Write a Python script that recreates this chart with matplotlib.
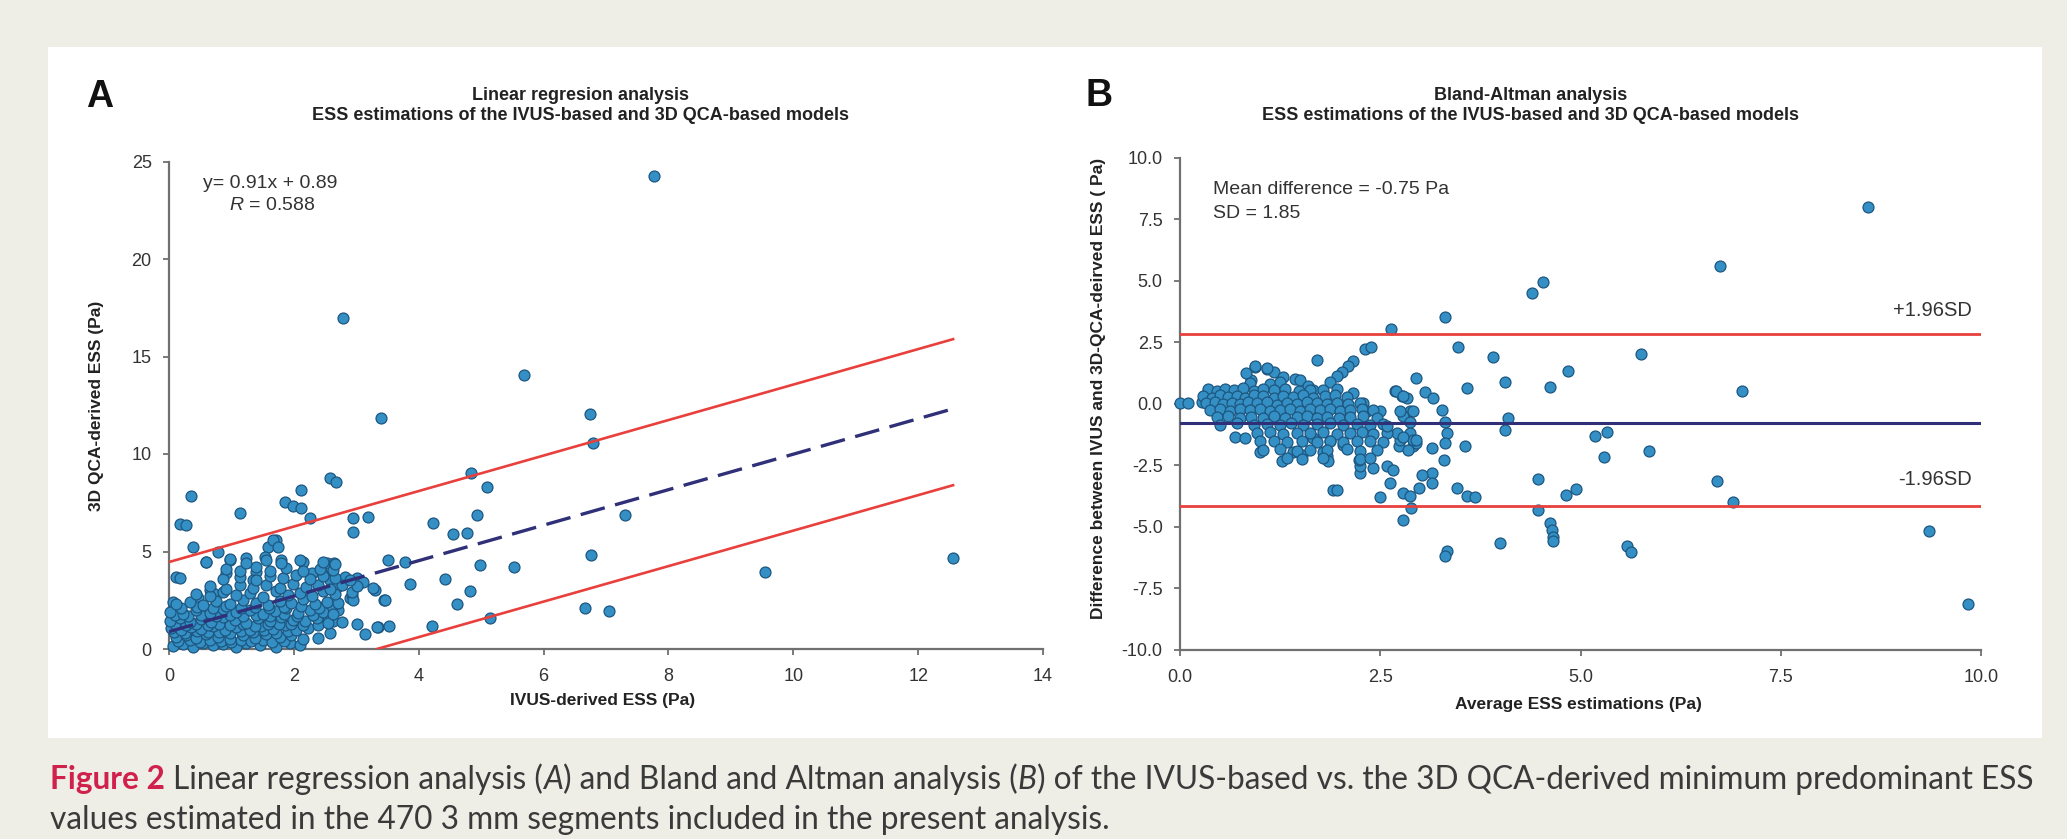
import matplotlib
matplotlib.use("Agg")
import matplotlib.pyplot as plt
from matplotlib.patches import Rectangle
from matplotlib import font_manager as fm

# ---------------- data ----------------
# Panel A: IVUS-derived ESS (x) vs 3D QCA-derived ESS (y)
a_ivus = [3.40, 6.75, 6.79, 0.36, 0.18, 0.28, 0.39, 1.14, 1.86, 1.99, 2.12, 2.12, 2.26, 2.58, 2.67, 2.94, 2.94, 3.19,
          4.83, 5.10, 4.93, 4.23, 4.55, 4.77, 4.98, 5.52, 4.42, 4.82, 4.61, 5.14, 4.21, 6.66, 7.05, 6.76, 7.30, 3.86,
          3.78, 3.50, 3.45, 3.30, 3.35, 3.53, 3.14, 3.01, 2.90, 2.93, 2.82, 3.01, 3.11, 2.58, 2.39, 2.63, 2.77, 2.58,
          2.71, 2.53, 2.64, 2.45, 2.58, 2.69, 2.15, 2.29, 1.72, 1.80, 1.59, 1.23, 0.98, 0.92, 0.59, 0.79, 0.12, 0.18,
          1.40, 1.35, 1.54, 0.66, 0.71, 0.47, 0.07, 1.67, 1.75, 2.95, 3.27, 3.46, 3.33, 2.55, 2.47, 2.61, 7.77, 9.54,
          12.56, 2.78, 5.68,
          0.07, 0.23, 0.39, 0.55, 0.71, 0.87, 1.08, 1.24, 1.46, 1.72, 1.94, 2.10,
          0.15, 0.33, 0.50, 0.66, 0.83, 1.00, 1.15, 1.32, 1.50, 1.65, 1.85,
          0.12, 0.28, 0.44, 0.60, 0.79, 0.98, 1.19, 1.38, 1.56, 1.78, 1.96, 2.15,
          0.08, 0.26, 0.45, 0.62, 0.80, 0.97, 1.15, 1.34, 1.52, 1.72, 1.90,
          0.04, 0.20, 0.36, 0.52, 0.71, 0.90, 1.08, 1.30, 1.48, 1.67, 1.86, 2.04, 2.23, 2.39,
          0.10, 0.28, 0.44, 0.62, 0.80, 0.98, 1.18, 1.38, 1.58, 1.76, 1.95, 2.14,
          0.02, 0.18, 0.34, 0.52, 0.68, 0.87, 1.06, 1.24, 1.43, 1.62, 1.80, 1.99, 2.18, 2.37, 2.55,
          0.10, 0.30, 0.52, 0.75, 0.98, 1.18, 1.40, 1.62, 1.85, 2.05, 2.30,
          0.02, 0.23, 0.44, 0.66, 0.87, 1.08, 1.30, 1.51, 1.70, 1.88, 2.07, 2.26, 2.47, 2.63,
          0.20, 0.45, 0.70, 0.92, 1.15, 1.38, 1.60, 1.85, 2.12, 2.40,
          0.11, 0.34, 0.55, 0.76, 0.98, 1.19, 1.40, 1.59, 1.78, 1.96, 2.15, 2.34, 2.53, 2.71,
          0.44, 0.66, 0.87, 1.08, 1.30, 1.51, 1.72, 1.91, 2.10, 2.29, 2.47, 2.66, 2.93,
          0.66, 0.92, 1.14, 1.35, 1.56, 1.78, 1.99, 2.20, 2.39, 2.58, 2.77, 3.01,
          0.87, 1.14, 1.40, 1.62, 1.83, 2.04, 2.26, 2.47, 2.66, 2.90,
          0.92, 1.14, 1.40, 1.62, 1.88, 2.15, 2.42, 2.63,
          0.60, 0.98, 1.24, 1.56, 1.80, 2.10, 2.47, 2.66]
a_qca = [11.85, 12.03, 10.55, 7.85, 6.41, 6.34, 5.21, 6.96, 7.56, 7.33, 7.21, 8.15, 6.70, 8.75, 8.58, 6.70, 6.02, 6.79,
         9.04, 8.32, 6.87, 6.48, 5.90, 5.97, 4.31, 4.22, 3.59, 2.97, 2.29, 1.57, 1.18, 2.10, 1.97, 4.82, 6.87, 3.33,
         4.48, 4.56, 2.51, 3.03, 1.15, 1.18, 0.77, 1.26, 2.60, 2.77, 3.71, 3.62, 3.45, 0.80, 0.55, 1.45, 1.40, 2.09,
         2.00, 4.39, 4.43, 3.88, 3.54, 3.20, 4.48, 3.88, 5.59, 4.56, 5.25, 4.65, 4.56, 3.88, 4.48, 4.99, 3.71, 3.62,
         3.97, 3.54, 4.73, 3.03, 2.85, 2.60, 2.43, 5.59, 5.25, 2.51, 3.11, 2.51, 1.15, 1.57, 2.17, 2.17, 24.27, 3.97,
         4.65, 17.00, 14.05,
         0.15, 0.25, 0.12, 0.30, 0.18, 0.28, 0.10, 0.32, 0.20, 0.12, 0.30, 0.22,
         0.40, 0.45, 0.38, 0.48, 0.40, 0.35, 0.45, 0.40, 0.48, 0.35, 0.42,
         0.60, 0.70, 0.55, 0.75, 0.62, 0.50, 0.70, 0.58, 0.78, 0.60, 0.72, 0.52,
         0.85, 0.82, 0.90, 0.85, 0.88, 0.80, 0.92, 0.85, 0.95, 0.82, 0.90,
         1.10, 0.98, 1.15, 1.02, 1.20, 0.95, 1.12, 1.00, 1.18, 1.05, 1.22, 0.98, 1.10, 1.25,
         1.28, 1.22, 1.30, 1.25, 1.30, 1.22, 1.30, 1.20, 1.30, 1.28, 1.30, 1.25,
         1.45, 1.60, 1.40, 1.55, 1.38, 1.62, 1.48, 1.35, 1.58, 1.44, 1.65, 1.50, 1.42, 1.60, 1.35,
         1.72, 1.70, 1.75, 1.68, 1.75, 1.70, 1.75, 1.70, 1.78, 1.68, 1.75,
         1.90, 1.80, 2.00, 1.85, 2.05, 1.88, 2.02, 1.80, 1.95, 2.08, 1.85, 2.00, 1.90, 1.82,
         2.12, 2.15, 2.10, 2.18, 2.12, 2.15, 2.10, 2.15, 2.20, 2.10,
         2.30, 2.40, 2.25, 2.45, 2.30, 2.50, 2.35, 2.28, 2.48, 2.38, 2.55, 2.30, 2.42, 2.36,
         2.80, 2.70, 2.90, 2.75, 2.85, 2.68, 2.95, 2.78, 2.88, 2.72, 2.95, 2.80, 2.90,
         3.25, 3.10, 3.30, 3.15, 3.28, 3.12, 3.35, 3.18, 3.30, 3.10, 3.28, 3.22,
         3.60, 3.70, 3.55, 3.75, 3.62, 3.80, 3.58, 3.72, 3.65, 3.55,
         4.10, 4.00, 4.18, 4.02, 4.15, 3.98, 4.12, 4.05,
         4.45, 4.60, 4.40, 4.55, 4.42, 4.58, 4.45, 4.35]

reg_slope = 0.91
reg_intercept = 0.89
reg_r = 0.588
band_upper_offset = 3.57
band_lower_offset = 3.92

# Panel B: Bland-Altman (average vs difference)
b_avg = [1.71, 0.94, 1.08, 1.17, 1.29, 1.44, 2.31, 2.39, 2.16, 2.10, 2.02, 1.96, 1.87, 1.50, 1.60, 1.66, 0.89, 0.83,
         3.47, 3.91, 4.85, 4.06, 3.58, 4.62, 2.95, 3.06, 3.16, 2.68, 2.77, 2.83, 2.50, 2.16, 2.29, 2.33, 3.27, 3.31,
         3.33, 3.31, 3.29, 4.10, 4.06, 3.56, 5.18, 5.33, 5.29, 4.47, 4.94, 4.82, 4.47, 4.62, 4.64, 4.66, 4.66, 4.00,
         3.33, 3.31, 3.46, 3.58, 3.68, 3.14, 3.02, 3.15, 2.79, 2.89, 2.79, 2.87, 2.98, 2.62, 2.50, 1.91, 1.96, 3.14,
         2.91, 2.95, 2.58, 2.66, 2.41, 2.25, 2.25, 2.23, 2.73, 2.75, 2.71, 2.87, 2.91, 2.87, 2.79, 2.87, 1.79, 1.83,
         1.85, 1.27, 1.41, 1.52, 1.00, 0.69, 0.81, 2.04, 1.87, 1.66, 8.59, 6.74, 5.76, 7.02, 5.85, 6.70, 6.90, 9.35,
         5.58, 5.63, 9.84, 4.40, 4.53, 3.31, 2.63, 0.00, 0.10, 0.27, 0.35, 0.42, 0.94, 1.08,
         0.87, 1.12, 1.25,
         0.35, 0.46, 0.56, 0.67, 0.79, 0.92, 1.04, 1.17, 1.31, 1.48, 1.62, 1.79, 1.96,
         0.29, 0.40, 0.50, 0.60, 0.71, 0.81, 0.92, 1.04, 1.17, 1.29, 1.41, 1.54, 1.66, 1.81, 1.94, 2.08,
         0.33, 0.44, 0.54, 0.65, 0.75, 0.85, 0.96, 1.08, 1.21, 1.33, 1.46, 1.58, 1.71, 1.83, 1.96, 2.10, 2.25,
         0.37, 0.50, 0.62, 0.75, 0.87, 1.00, 1.12, 1.25, 1.37, 1.50, 1.62, 1.75, 1.87, 2.00, 2.12, 2.27, 2.41,
         0.46, 0.60, 0.75, 0.89, 1.04, 1.17, 1.31, 1.46, 1.58, 1.71, 1.83, 1.98, 2.12, 2.29, 2.46,
         0.50, 0.71, 0.92, 1.08, 1.25, 1.39, 1.54, 1.71, 1.87, 2.04, 2.21, 2.37, 2.54,
         0.96, 1.12, 1.29, 1.46, 1.62, 1.79, 1.96, 2.12, 2.27, 2.41, 2.58,
         1.00, 1.17, 1.33, 1.52, 1.71, 1.87, 2.04, 2.21, 2.37, 2.54,
         1.04, 1.25, 1.46, 1.62, 1.83, 2.08, 2.25, 2.46,
         1.33, 1.52, 1.79, 2.25, 2.37,
         2.70, 2.79, 2.91, 2.75, 2.58, 2.79, 2.95, 2.85]
b_diff = [1.79, 1.49, 1.41, 1.31, 1.08, 1.00, 2.22, 2.30, 1.72, 1.52, 1.31, 1.11, 0.87, 0.97, 0.73, 0.57, 0.97, 1.24,
          2.30, 1.89, 1.35, 0.87, 0.64, 0.68, 1.04, 0.46, 0.23, 0.50, 0.32, 0.23, -0.31, 0.43, 0.03, -0.31, -0.27,
          -0.72, -1.19, -1.60, -2.27, -0.58, -1.06, -1.73, -1.30, -1.16, -2.17, -3.06, -3.46, -3.69, -4.33, -4.84,
          -5.12, -5.39, -5.59, -5.66, -5.99, -6.20, -3.42, -3.76, -3.79, -2.81, -2.88, -3.22, -4.71, -4.24, -3.63,
          -3.76, -3.42, -3.22, -3.79, -3.49, -3.52, -1.80, -1.73, -1.60, -2.54, -2.68, -2.61, -2.81, -2.54, -2.27,
          -1.73, -1.46, -1.19, -1.19, -1.46, -0.31, -0.51, -0.72, -1.94, -2.14, -2.34, -2.34, -1.94, -2.07, -1.94,
          -1.33, -1.39, -1.66, -1.53, -1.39, 7.99, 5.60, 2.02, 0.50, -1.90, -3.14, -3.97, -5.17, -5.78, -6.00, -8.13,
          4.52, 4.96, 3.53, 3.05, 0.03, 0.03, 0.09, 0.50, 0.30, 1.52, 1.45,
          0.84, 0.80, 0.88,
          0.60, 0.52, 0.62, 0.55, 0.65, 0.50, 0.60, 0.55, 0.62, 0.50, 0.58, 0.55, 0.60,
          0.30, 0.25, 0.35, 0.28, 0.32, 0.22, 0.35, 0.30, 0.25, 0.33, 0.28, 0.36, 0.25, 0.30, 0.35, 0.26,
          0.03, 0.08, 0.00, 0.05, -0.02, 0.06, 0.02, 0.08, -0.03, 0.04, 0.00, 0.06, 0.02, -0.02, 0.05, 0.00, 0.04,
          -0.24, -0.20, -0.28, -0.22, -0.26, -0.20, -0.30, -0.24, -0.20, -0.28, -0.22, -0.26, -0.20, -0.30, -0.24,
          -0.22, -0.26,
          -0.54, -0.50, -0.58, -0.52, -0.56, -0.50, -0.58, -0.54, -0.50, -0.56, -0.52, -0.58, -0.54, -0.50, -0.56,
          -0.85, -0.80, -0.88, -0.82, -0.86, -0.80, -0.88, -0.84, -0.80, -0.86, -0.82, -0.88, -0.84,
          -1.19, -1.15, -1.22, -1.17, -1.20, -1.15, -1.22, -1.18, -1.15, -1.21, -1.17,
          -1.53, -1.50, -1.56, -1.52, -1.55, -1.50, -1.56, -1.53, -1.50, -1.55,
          -1.87, -1.84, -1.90, -1.86, -1.88, -1.84, -1.90, -1.86,
          -2.21, -2.25, -2.20, -2.24, -2.21,
          0.50, 0.30, -0.31, -0.31, -0.92, -1.33, -1.46, -1.87]

b_mean_line = -0.76
b_upper_line = 2.84
b_lower_line = -4.17
b_mean_text = -0.75
b_sd = 1.85

a_xticks = [0, 2, 4, 6, 8, 10, 12, 14]
a_yticks = [0, 5, 10, 15, 20, 25]
b_xticks = [0.0, 2.5, 5.0, 7.5, 10.0]
b_xticklabels = ["0.0", "2.5", "5.0", "7.5", "10.0"]
b_yticks = [10.0, 7.5, 5.0, 2.5, 0.0, -2.5, -5.0, -7.5, -10.0]
b_yticklabels = ["10.0", "7.5", "5.0", "2.5", "0.0", "-2.5", "-5.0", "-7.5", "-10.0"]

# ---------------- styling ----------------
names = {f.name for f in fm.fontManager.ttflist}
COND = "Liberation Sans Narrow" if "Liberation Sans Narrow" in names else "Liberation Sans"
CAPFONT = "Lato" if "Lato" in names else "DejaVu Sans"

plt.rcParams["font.family"] = ["Liberation Sans", "DejaVu Sans"]
plt.rcParams["mathtext.fontset"] = "custom"
plt.rcParams["mathtext.rm"] = "Liberation Sans"
plt.rcParams["mathtext.it"] = "Liberation Sans:italic"

W, H, DPI = 2067, 839, 100
BG = "#eeeee6"
PT_FACE = "#3490c4"
PT_EDGE = "#1d5680"
RED = "#e8403c"
NAVY = "#2f3078"
SPINE = "#707070"
TXT = "#333333"
MS = 62

fig = plt.figure(figsize=(W / DPI, H / DPI), dpi=DPI, facecolor=BG)
fig.patches.append(Rectangle((48 / W, 1 - 738 / H), (2042 - 48) / W, (738 - 47) / H,
                             transform=fig.transFigure, facecolor="white", edgecolor="none", zorder=-5))


def fx(px):
    return px / W


def fy(py):
    return 1 - py / H


def style_axes(ax):
    for s in ("top", "right"):
        ax.spines[s].set_visible(False)
    for s in ("left", "bottom"):
        ax.spines[s].set_color(SPINE)
        ax.spines[s].set_linewidth(1.6)
    ax.set_facecolor("none")
    ax.tick_params(axis="both", direction="out", length=4.5, width=1.3, color=SPINE,
                   labelsize=13, labelcolor=TXT)
    ax.tick_params(axis="x", pad=9)
    ax.tick_params(axis="y", pad=8)


TITLE_KW = dict(fontsize=13, fontweight="bold", family=COND, color="#222222", ha="center", va="center")
LABEL_KW = dict(fontsize=12.5, fontweight="bold", family=COND, color="#222222", ha="center", va="center")

# ---------------- Panel A ----------------
axA = fig.add_axes([fx(169), fy(649), fx(1043) - fx(169), fy(161.5) - fy(649)])
axA.set_zorder(2)
style_axes(axA)
axA.set_xlim(0, 14)
axA.set_ylim(0, 25)
axA.set_xticks(a_xticks)
axA.set_yticks(a_yticks)
axA.scatter(a_ivus, a_qca, s=MS, c=PT_FACE, edgecolors=PT_EDGE, linewidths=0.9, zorder=3, clip_on=False)

xmax = max(a_ivus)
axA.plot([0, xmax], [reg_intercept, reg_slope * xmax + reg_intercept], color=NAVY, lw=2.4,
         linestyle=(0, (7.5, 3.2)), zorder=4)
axA.plot([0, xmax], [reg_intercept + band_upper_offset, reg_slope * xmax + reg_intercept + band_upper_offset],
         color=RED, lw=1.9, zorder=4)
x_low0 = (band_lower_offset - reg_intercept) / reg_slope
axA.plot([x_low0, xmax], [reg_slope * x_low0 + reg_intercept - band_lower_offset,
                           reg_slope * xmax + reg_intercept - band_lower_offset], color=RED, lw=1.9, zorder=4)

fig.text(fx(203), fy(183), "y= %.2fx + %.2f" % (reg_slope, reg_intercept), fontsize=14, color=TXT,
         ha="left", va="center")
fig.text(fx(229), fy(206), r"$\mathit{R}$ = %.3f" % reg_r, fontsize=14, color=TXT, ha="left", va="center")

fig.text(fx(86), fy(97), "A", fontsize=27, fontweight="bold", color="#111111", ha="left", va="center")
fig.text(fx(580), fy(95), "Linear regresion analysis", **TITLE_KW)
fig.text(fx(580), fy(116), "ESS estimations of the IVUS-based and 3D QCA-based models", **TITLE_KW)
fig.text(fx(603), fy(701), "IVUS-derived ESS (Pa)", **LABEL_KW)
fig.text(fx(97), fy(406), "3D QCA-derived ESS (Pa)", rotation=90, **LABEL_KW)

# ---------------- Panel B ----------------
axB = fig.add_axes([fx(1180), fy(650), fx(1981) - fx(1180), fy(157.6) - fy(650)])
axB.set_zorder(2)
style_axes(axB)
axB.set_xlim(0, 10)
axB.set_ylim(-10, 10)
axB.set_xticks(b_xticks, b_xticklabels)
axB.set_yticks(b_yticks, b_yticklabels)
axB.scatter(b_avg, b_diff, s=MS, c=PT_FACE, edgecolors=PT_EDGE, linewidths=0.9, zorder=3, clip_on=False)
axB.plot([0, 10], [b_upper_line, b_upper_line], color=RED, lw=2.0, zorder=4)
axB.plot([0, 10], [b_lower_line, b_lower_line], color=RED, lw=2.0, zorder=4)
axB.plot([0, 10], [b_mean_line, b_mean_line], color=NAVY, lw=2.2, zorder=4)
axB.text(9.88, b_upper_line + 0.95, "+1.96SD", fontsize=14.5, color=TXT, ha="right", va="center")
axB.text(9.88, b_lower_line + 1.1, "-1.96SD", fontsize=14.5, color=TXT, ha="right", va="center")

fig.text(fx(1213), fy(190), "Mean difference = %.2f Pa" % b_mean_text, fontsize=14, color=TXT,
         ha="left", va="center")
fig.text(fx(1213), fy(213), "SD = %.2f" % b_sd, fontsize=14, color=TXT, ha="left", va="center")

fig.text(fx(1085), fy(96), "B", fontsize=27, fontweight="bold", color="#111111", ha="left", va="center")
fig.text(fx(1531), fy(95), "Bland-Altman analysis", **TITLE_KW)
fig.text(fx(1531), fy(116), "ESS estimations of the IVUS-based and 3D QCA-based models", **TITLE_KW)
fig.text(fx(1578), fy(705), "Average ESS estimations (Pa)", **LABEL_KW)
fig.text(fx(1098), fy(388), "Difference between IVUS and 3D-QCA-deirved ESS ( Pa)", rotation=90, **LABEL_KW)

# ---------------- Caption ----------------
CAP_RED = "#d0204c"
CAP_TXT = "#3a3a3a"
line1 = [("Figure 2", dict(fontweight="bold", color=CAP_RED), False),
         ("Linear regression analysis (", dict(color=CAP_TXT), True),
         ("A", dict(color=CAP_TXT, style="italic"), False),
         (") and Bland and Altman analysis (", dict(color=CAP_TXT), False),
         ("B", dict(color=CAP_TXT, style="italic"), False),
         (") of the IVUS-based vs. the 3D QCA-derived minimum predominant ESS", dict(color=CAP_TXT), False)]
line2 = [("values estimated in the 470 3 mm segments included in the present analysis.", dict(color=CAP_TXT), False)]

renderer = fig.canvas.get_renderer()


def draw_line(segs, x0, ybase, size):
    objs = []
    t1 = fig.text(0, 0, "aa", fontsize=size, family=CAPFONT)
    t2 = fig.text(0, 0, "a a", fontsize=size, family=CAPFONT)
    space = t2.get_window_extent(renderer).width - t1.get_window_extent(renderer).width
    t1.remove()
    t2.remove()
    x = x0
    for s, kw, gap in segs:
        if gap:
            x += space
        t = fig.text(x / W, fy(ybase), s, fontsize=size, family=CAPFONT, ha="left", va="baseline", **kw)
        x += t.get_window_extent(renderer).width
        objs.append(t)
    return objs, x - x0


size0 = 20
objs, width = draw_line(line1, 50, 789, size0)
for o in objs:
    o.remove()
size = size0 * (1990.0 / width)
draw_line(line1, 50, 789, size)
draw_line(line2, 50, 829, size)

fig.savefig("out.png", dpi=DPI, facecolor=BG)
